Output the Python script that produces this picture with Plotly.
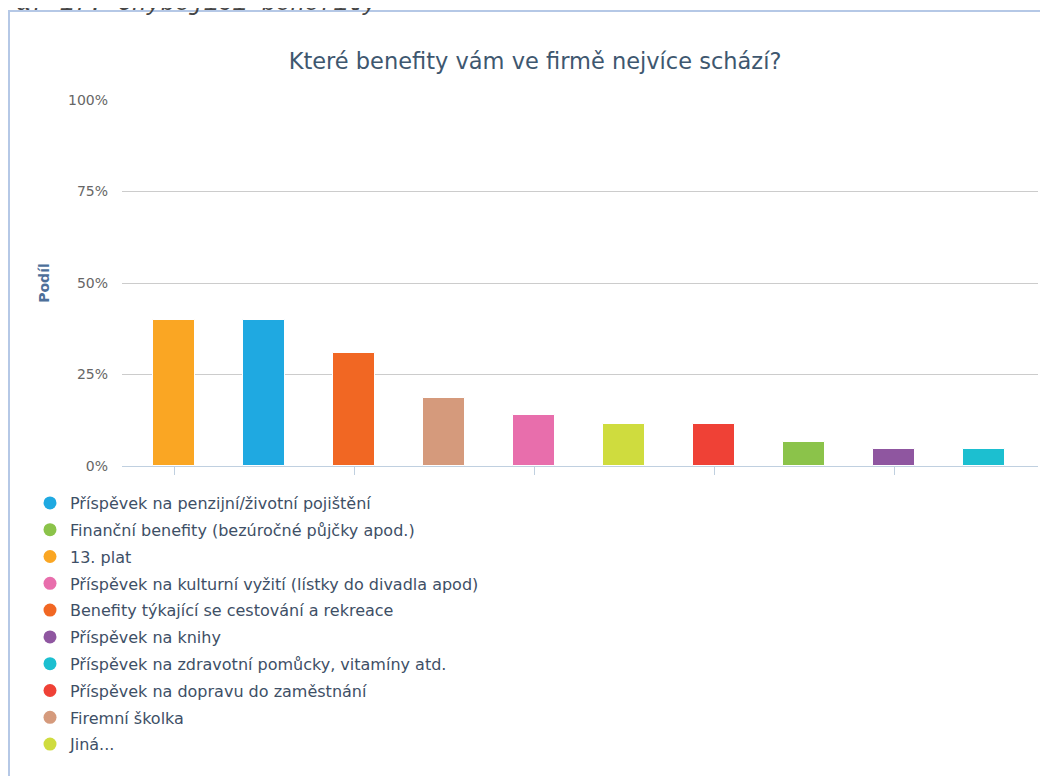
import plotly.graph_objects as go

# bar order (left to right)
categories = ['13. plat', 'Příspěvek na penzijní/životní pojištění', 'Benefity týkající se cestování a rekreace',
              'Firemní školka', 'Příspěvek na kulturní vyžití (lístky do divadla apod)', 'Jiná...',
              'Příspěvek na dopravu do zaměstnání', 'Finanční benefity (bezúročné půjčky apod.)',
              'Příspěvek na knihy', 'Příspěvek na zdravotní pomůcky, vitamíny atd.']
shares = [40.0, 40.0, 30.8, 18.5, 13.8, 11.5, 11.5, 6.5, 4.6, 4.6]
colors = ['#faa623', '#1fa9e1', '#f16723', '#d59a7c', '#e86eac', '#cfdc3e', '#ef4136', '#8bc34a', '#8f56a0', '#1cbfd0']

# legend order as shown under the chart
legend_order = ['Příspěvek na penzijní/životní pojištění', 'Finanční benefity (bezúročné půjčky apod.)', '13. plat',
                'Příspěvek na kulturní vyžití (lístky do divadla apod)', 'Benefity týkající se cestování a rekreace',
                'Příspěvek na knihy', 'Příspěvek na zdravotní pomůcky, vitamíny atd.',
                'Příspěvek na dopravu do zaměstnání', 'Firemní školka', 'Jiná...']

y_ticks = [0, 25, 50, 75, 100]
y_tick_text = ['0%', '25%', '50%', '75%', '100%']

# the page puts the figure 8px in from the top-left corner
OFF = 8
W, H = 1048 - OFF, 776 - OFF
L, R, T, B = 122 - OFF, 1038 - OFF, 100 - OFF, 466 - OFF   # plot area, figure pixels
pw, ph = R - L, B - T


# page pixel -> paper coordinate
def px_x(x):
    return (x - OFF - L) / pw


def px_y(y):
    return (B - (y - OFF)) / ph


font = 'DejaVu Sans'
fig = go.Figure()

idx = list(range(len(categories)))
fig.add_trace(go.Bar(x=idx, y=shares, width=0.47, marker=dict(color=colors, line=dict(color='white', width=1)),
                     showlegend=False, hoverinfo='y'))

for name in legend_order:
    c = colors[categories.index(name)]
    fig.add_trace(go.Scatter(x=[None], y=[None], mode='markers', name=name, legendgroup=name,
                             marker=dict(symbol='circle', size=13, color=c)))

fig.update_layout(
    width=W, height=H,
    margin=dict(l=L, r=W - R, t=T, b=H - B, autoexpand=False),
    paper_bgcolor='white', plot_bgcolor='white',
    font=dict(family=font, size=14, color='#666666'),
    title=dict(text='Které benefity vám ve firmě nejvíce schází?', x=(535 - OFF) / W, xref='container',
               xanchor='center', y=1 - (61 - OFF) / H, yref='container', yanchor='middle',
               font=dict(family=font, size=22.5, color='#3e576f')),
    legend=dict(x=px_x(30), xanchor='left', y=px_y(486), yanchor='top', orientation='v',
                font=dict(family=font, size=16, color='#3e4f66'), tracegroupgap=3,
                bgcolor='rgba(0,0,0,0)', borderwidth=0),
    bargap=0,
    shapes=[dict(type='rect', xref='paper', yref='paper', x0=px_x(9), x1=px_x(1070), y0=px_y(900), y1=px_y(11),
                 line=dict(color='#b5c8e6', width=2), layer='below')],
    annotations=[dict(text='<i>Graf 17: Chybějící benefity</i>', xref='paper', yref='paper', x=px_x(-14), y=px_y(19),
                      xanchor='left', yanchor='bottom', showarrow=False,
                      font=dict(family='Liberation Mono', size=24, color='#444444'))],
)

fig.update_xaxes(range=[-0.58, 9.6], tickvals=[0, 2, 4, 6, 8], ticktext=['', '', '', '', ''],
                 ticks='outside', ticklen=8, tickcolor='#c0d0e0', showline=True, linecolor='#c0d0e0', linewidth=1,
                 showgrid=False, zeroline=False, fixedrange=True)
fig.update_yaxes(range=[0, 100], tickvals=y_ticks, ticktext=y_tick_text, showgrid=True, gridcolor='#cccccc',
                 gridwidth=1, zeroline=False, showline=False, ticklabelstandoff=13,
                 title=dict(text='<b>Podíl</b>', font=dict(family=font, size=14, color='#4d6f99'), standoff=15))

fig.write_html('out.html')
